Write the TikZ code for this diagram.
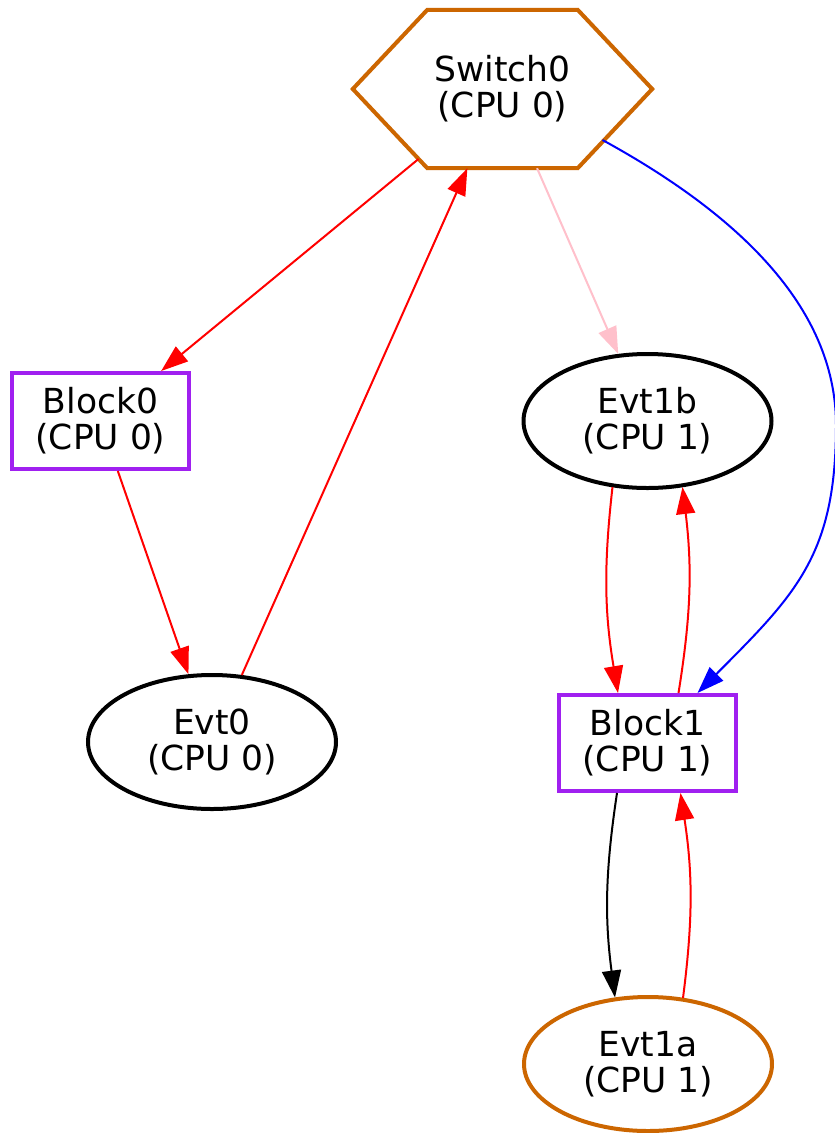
\documentclass[tikz,border=0pt]{standalone}
\usepackage{fontspec}
\setmainfont{DejaVu Sans}
\usepackage{tikz}
\usetikzlibrary{arrows.meta, shapes.geometric}
\usepackage{xcolor}
\definecolor{switchorange}{RGB}{204, 102, 0}
\definecolor{blockpurple}{RGB}{160, 32, 240}
\definecolor{linkpink}{RGB}{255, 192, 203}

\begin{document}
\begin{tikzpicture}[x=1pt, y=-1pt, >={Triangle[length=27pt, width=19pt]},
  lbl/.style={font=\fontsize{34.5}{36}\selectfont, align=center, inner sep=0pt},
  evtnode/.style={lbl, ellipse, draw, line width=4pt, minimum width=248pt, minimum height=134pt},
  blocknode/.style={lbl, rectangle, draw=blockpurple, line width=4pt, minimum width=177pt, minimum height=96pt},
  link/.style={->, line width=2pt}]

  % Canvas
  \fill[white] (0,0) rectangle (835,1133);
  \useasboundingbox (0,0) rectangle (835,1133);

  % Switch node with hexagon outline
  \node[lbl, minimum width=299pt, minimum height=158pt] (switch) at (502.5,89) {Switch0\\(CPU 0)};
  \draw[switchorange, line width=4pt, line join=miter]
    ([xshift=74.5pt]switch.north west) -- ([xshift=-74.5pt]switch.north east) -- (switch.east)
    -- ([xshift=-74.5pt]switch.south east) -- ([xshift=74.5pt]switch.south west) -- (switch.west) -- cycle;

  % CPU 0 column
  \node[blocknode] (block0) at (100.5,421) {Block0\\(CPU 0)};
  \node[evtnode] (evt0) at (212,742) {Evt0\\(CPU 0)};

  % CPU 1 column
  \node[evtnode] (evt1b) at (647.5,421) {Evt1b\\(CPU 1)};
  \node[blocknode] (block1) at (647.5,743) {Block1\\(CPU 1)};
  \node[evtnode, draw=switchorange] (evt1a) at (648,1064) {Evt1a\\(CPU 1)};

  % Edges out of and into the switch
  \draw[link, red] ([xshift=-84pt, yshift=-70pt]switch.center) -- (block0);
  \draw[link, red] (block0) -- (evt0);
  \draw[link, red] (evt0) -- (switch);
  \draw[link, linkpink] (switch) -- (evt1b);
  \coordinate (bluebend) at (836,425);
  \draw[link, blue] ([xshift=100pt, yshift=-51pt]switch.center)
    .. controls (734,212) and (836,305) .. (bluebend)
    .. controls (836,555) and (796,594) .. ([xshift=50pt]block1.north);

  % Back and forth on CPU 1
  \draw[link, red] ([xshift=-35pt, yshift=3pt]evt1b.south) to[bend right=8] ([xshift=-29.5pt]block1.north);
  \draw[link, red] ([xshift=31pt]block1.north) to[bend right=8] ([xshift=35pt, yshift=3pt]evt1b.south);
  \draw[link, black] ([xshift=-30.5pt]block1.south) to[bend right=8] ([xshift=-33pt, yshift=-2.5pt]evt1a.north);
  \draw[link, red] ([xshift=35pt, yshift=-3pt]evt1a.north) to[bend right=8] ([xshift=33pt]block1.south);

\end{tikzpicture}
\end{document}
